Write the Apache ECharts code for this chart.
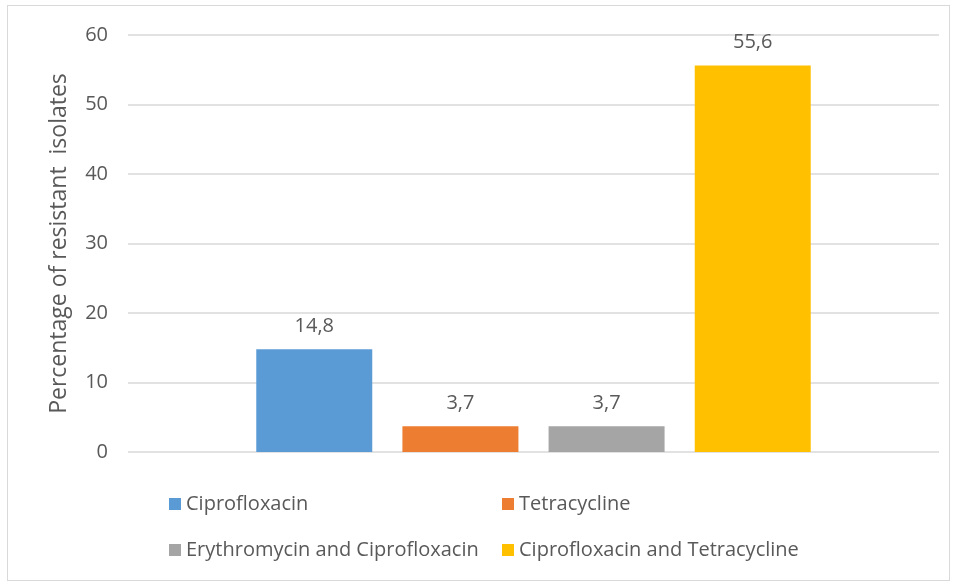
<!DOCTYPE html>
<html><head><meta charset="utf-8">
<script src="https://cdn.jsdelivr.net/npm/echarts@6/dist/echarts.min.js"></script>
<style>
html,body{margin:0;padding:0;background:#fff;}
#frame{position:absolute;left:7px;top:5px;width:943px;height:576px;border:1.5px solid #d9d9d9;box-sizing:border-box;}
#c{position:absolute;left:0;top:0;width:958px;height:584px;}
</style></head>
<body>
<div id="frame"></div>
<div id="c"></div>
<script>
const categories = [''];
const seriesNames = ['Ciprofloxacin', 'Tetracycline', 'Erythromycin and Ciprofloxacin', 'Ciprofloxacin and Tetracycline'];
const seriesValues = [14.8, 3.7, 3.7, 55.6];
const colors = ['#5B9BD5', '#ED7D31', '#A5A5A5', '#FFC000'];
const yTicks = [0, 10, 20, 30, 40, 50, 60];

const font = 'Open Sans';
const txt = '#595959';
const legendPos = [[164, 489], [497, 489], [164, 535], [497, 535]];

const chart = echarts.init(document.getElementById('c'));
chart.setOption({
  animation: false,
  grid: {left: 128, right: 19, top: 35, bottom: 132},
  xAxis: {
    type: 'category', data: categories,
    axisLine: {show: false}, axisTick: {show: false}, axisLabel: {show: false}
  },
  yAxis: {
    type: 'value', min: yTicks[0], max: yTicks[yTicks.length - 1], interval: 10,
    axisLine: {show: false}, axisTick: {show: false},
    axisLabel: {color: txt, fontSize: 20, fontFamily: font, margin: 20},
    splitLine: {lineStyle: {color: '#d9d9d9', width: 1.5}},
    name: 'Percentage of resistant  isolates', nameLocation: 'middle', nameGap: 57,
    nameTextStyle: {color: txt, fontSize: 23, fontFamily: font}
  },
  legend: seriesNames.map((n, i) => ({
    data: [n], left: legendPos[i][0], top: legendPos[i][1],
    icon: 'rect', itemWidth: 12, itemHeight: 12, itemGap: 0,
    textStyle: {color: txt, fontSize: 20, fontFamily: font}
  })),
  series: seriesNames.map((n, i) => ({
    name: n, type: 'bar', data: [seriesValues[i]],
    barWidth: 116, barGap: '26%',
    itemStyle: {color: colors[i]},
    label: {
      show: true, position: 'top', distance: 13,
      color: txt, fontSize: 20, fontFamily: font,
      formatter: p => String(p.value).replace('.', ',')
    }
  }))
});
</script>
</body></html>
